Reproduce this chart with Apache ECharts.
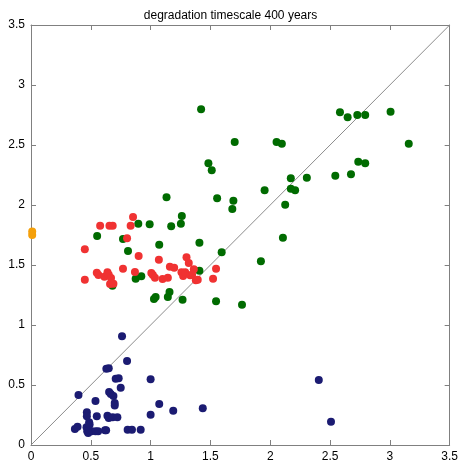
<!DOCTYPE html>
<html>
<head>
<meta charset="utf-8">
<script src="https://cdn.jsdelivr.net/npm/echarts@6/dist/echarts.min.js"></script>
<style>html,body{margin:0;padding:0;background:#fff}#c{width:461px;height:463px}</style>
</head>
<body>
<div id="c"></div>
<script>
const titleText = "degradation timescale 400 years";
const axisTicks = [0, 0.5, 1, 1.5, 2, 2.5, 3, 3.5];
const diagonal = [[0, 0], [3.5, 3.5]];
const bluePts = [[0.761,0.906],[0.803,0.70],[0.63,0.636],[0.65,0.64],[0.708,0.553],[0.733,0.556],[1.0,0.548],[0.75,0.478],[0.397,0.417],[0.539,0.367],[0.653,0.442],[0.667,0.425],[0.689,0.408],[0.70,0.35],[0.70,0.33],[1.072,0.342],[1.0,0.253],[0.467,0.272],[0.467,0.239],[0.55,0.239],[0.639,0.244],[0.65,0.225],[0.683,0.231],[0.722,0.231],[0.367,0.133],[0.389,0.153],[0.464,0.147],[0.483,0.128],[0.506,0.114],[0.539,0.114],[0.561,0.114],[0.619,0.122],[0.628,0.122],[0.47,0.114],[0.478,0.10],[0.808,0.128],[0.844,0.128],[0.917,0.128],[0.486,0.19],[0.49,0.17],[1.189,0.286],[1.436,0.306],[2.406,0.542],[2.508,0.194]];
const redPts = [[0.853,1.90],[0.578,1.828],[0.656,1.828],[0.683,1.828],[0.833,1.828],[0.803,1.722],[0.45,1.631],[0.90,1.575],[0.769,1.469],[0.55,1.436],[0.564,1.417],[0.614,1.403],[0.639,1.439],[0.65,1.419],[0.669,1.392],[0.661,1.342],[0.689,1.344],[0.45,1.378],[0.869,1.442],[1.006,1.433],[1.019,1.417],[1.036,1.394],[1.069,1.544],[1.30,1.564],[1.319,1.517],[1.161,1.486],[1.197,1.478],[1.10,1.383],[1.144,1.394],[1.258,1.439],[1.272,1.408],[1.289,1.44],[1.331,1.414],[1.361,1.464],[1.347,1.419],[1.378,1.372],[1.394,1.378],[1.547,1.469],[1.522,1.386]];
const greenPts = [[1.422,2.797],[2.583,2.772],[2.647,2.731],[2.728,2.75],[2.794,2.75],[3.006,2.778],[1.703,2.525],[2.053,2.525],[2.097,2.511],[3.158,2.511],[1.483,2.347],[1.511,2.289],[2.736,2.361],[2.794,2.347],[2.172,2.222],[2.306,2.228],[2.544,2.244],[2.675,2.256],[2.172,2.136],[2.208,2.122],[1.953,2.122],[1.556,2.056],[1.692,2.036],[1.683,1.967],[2.125,2.003],[1.408,1.686],[2.106,1.728],[1.594,1.606],[1.922,1.531],[1.408,1.453],[1.133,2.064],[1.261,1.908],[1.253,1.844],[1.172,1.822],[0.992,1.839],[0.897,1.844],[1.072,1.669],[1.158,1.275],[1.144,1.233],[1.042,1.233],[1.028,1.217],[1.267,1.211],[1.547,1.197],[0.553,1.742],[0.769,1.717],[0.811,1.617],[0.875,1.386],[0.922,1.406],[0.681,1.328],[1.764,1.169]];
const orangePts = [[0.01,1.75],[0.01,1.78]];

const axisColor = '#808080';
const font = 'Liberation Sans, Arial, sans-serif';
function mkAxis(pos, showLabels) {
  return {
    type: 'value', position: pos, min: axisTicks[0], max: axisTicks[axisTicks.length-1], interval: 0.5,
    axisLine: {show: true, onZero: false, lineStyle: {color: axisColor, width: 1}},
    axisTick: {show: true, inside: true, length: 5, lineStyle: {color: axisColor}},
    axisLabel: {show: showLabels, color: '#000', fontSize: 12, fontFamily: font, margin: 6,
      formatter: v => String(v)},
    splitLine: {show: false}
  };
}
const chart = echarts.init(document.getElementById('c'), null, {renderer: 'canvas'});
const scatter = (data, color) => ({type: 'scatter', data, symbol: 'circle', symbolSize: 8,
  itemStyle: {color, opacity: 1}, xAxisIndex: 0, yAxisIndex: 0, z: 3, silent: true});
chart.setOption({
  animation: false,
  backgroundColor: '#fff',
  title: {text: titleText, left: 'center', top: 5, textStyle: {fontSize: 12, fontWeight: 'normal', color: '#000', fontFamily: font}},
  grid: {left: 31, right: 9, top: 25, bottom: 16, containLabel: false},
  xAxis: [mkAxis('bottom', true), mkAxis('top', false)],
  yAxis: [mkAxis('left', true), mkAxis('right', false)],
  series: [
    {type: 'line', data: diagonal, symbol: 'none', lineStyle: {color: '#8c8c8c', width: 1}, z: 2, silent: true},
    scatter(bluePts, '#1b1b72'),
    scatter(greenPts, '#006b00'),
    scatter(redPts, '#f03232'),
    scatter(orangePts, '#f5a00a')
  ]
});
</script>
</body>
</html>
